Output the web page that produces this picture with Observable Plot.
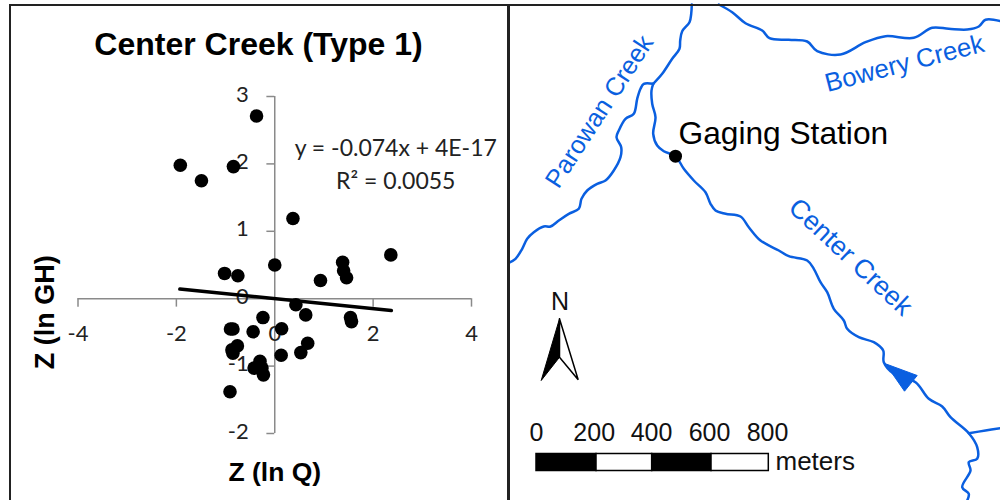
<!DOCTYPE html>
<html>
<head>
<meta charset="utf-8">
<script src="https://cdn.jsdelivr.net/npm/d3@7"></script>
<script src="https://cdn.jsdelivr.net/npm/@observablehq/plot@0.6"></script>
<style>
html,body{margin:0;padding:0;background:#fff;width:1000px;height:500px;overflow:hidden}
#left,#right{position:absolute;top:0}
#left{left:0}#right{left:508px}
.border{position:absolute;background:#222}
</style>
</head>
<body>
<div id="left"></div>
<div id="right"></div>
<div class="border" style="left:9px;top:4px;width:2px;height:496px"></div>
<div class="border" style="left:9px;top:4px;width:991px;height:2px"></div>
<div class="border" style="left:507px;top:4px;width:3px;height:496px"></div>
<script>
// ---- scatter values ----
const zQ = [-0.37,-1.92,-1.49,-0.84,0.37,2.36,0.0,-1.02,-0.75,0.93,1.38,1.40,1.46,0.43,0.63,1.54,1.56,-0.24,-0.85,-0.90,-0.44,0.14,0.67,0.53,0.13,-0.76,-0.87,-0.85,-0.30,-0.26,-0.42,-0.23,-0.91];
const zGH = [2.71,1.98,1.75,1.96,1.19,0.65,0.50,0.375,0.34,0.27,0.54,0.415,0.31,-0.09,-0.24,-0.28,-0.34,-0.28,-0.45,-0.45,-0.49,-0.445,-0.66,-0.80,-0.84,-0.70,-0.76,-0.81,-0.93,-1.03,-1.03,-1.13,-1.38];
const trendX = [-1.93,2.37];
const trendY = [0.143,-0.175];
const xTicks = [-4,-2,0,2,4];
const yTicks = [-2,-1,0,1,2,3];
const scatter = zQ.map((x,i)=>({x,y:zGH[i]}));
const trend = trendX.map((x,i)=>({x,y:trendY[i]}));

// ---- map features (map sheet coordinates) ----
const parowanUpper = [[691.3,4],[690.7,13.3],[689,21.7],[681.7,30.7],[679.7,40],[679,48.3],[671.7,58.3],[661.7,73.3],[652.7,83.3]];
const parowanLower = [[652.7,83.3],[643.3,83.3],[640,88.3],[636.7,98.3],[633.3,113.3],[625,118.3],[618.3,130],[616,136.7],[620.7,146.7],[620,156.7],[613.3,170],[605,180],[596.7,183.3],[586.7,190],[581,198.3],[578.3,208.3],[568.3,213.3],[558.3,220],[550,226],[543.3,226],[533.3,231.7],[526.7,238.3],[521.7,248.3],[515,258.3],[508.3,262.3]];
const centerCreek = [[652.7,83.3],[651,90],[651.7,103.3],[655,116.7],[652.7,133.3],[656.7,145],[663.3,150.7],[675,155.7],[683.3,168.3],[693.3,180],[705,191.7],[710,203.3],[715,210],[725,213.3],[740,216],[748.3,226.7],[760,240],[778.3,250],[788.3,255.7],[806.7,260],[813.3,268.3],[820,281.7],[826.7,291.7],[833.3,308.3],[843.3,320],[846.7,328.3],[858.3,336.7],[873.3,341.7],[882.7,350],[883.3,361.7],[893.3,373.3],[915,381.7],[928.3,398.3],[941.7,406],[950,416.7],[968.3,432.7],[976.7,446.7],[976.7,458.3],[968.3,461.7],[970,470],[961.7,486.7],[968.3,493.3],[966.7,500]];
const centerBranch = [[968.3,432.7],[985,430],[1000,427.7]];
const boweryCreek = [[718.3,4],[731.7,11.7],[745,22.7],[761.7,30],[769,37.7],[788.3,39.3],[806.7,41],[816.7,50.7],[840,54],[865,41.7],[885,35.7],[913.3,37.3],[931.7,27.3],[948.3,28.3],[966.7,29],[978.3,26],[985,19.3],[1000,20.7]];
const flowArrow = [[885,363.3],[916.7,375],[904,390.7],[885,363.3]];
const northLeft = [[559,318.3],[559,356.7],[540.7,380],[559,318.3]];
const northRight = [[559,318.3],[577.7,379.3],[559,356.7],[559,318.3]];
const station = [[675,155.7]];
const scaleEdges = [536,596,651.7,711,768.3];
const scaleFill = ["#000","#fff","#000","#fff"];
const scaleTop = 453.5, scaleBottom = 470.5;
const scaleLabels = ["0","200","400","600","800"];
const scaleLabelX = [536,593.7,651,709,767];

const gray = "#8a8a8a", blue = "#0a5fe0", ink = "#111";
const tick = "Lato, sans-serif", bold = "Liberation Sans, Arial, sans-serif";

const left = Plot.plot({
  width: 508, height: 500, margin: 0,
  x: {domain:[-4,4], range:[77.5,471], axis:null},
  y: {domain:[-2,3], range:[433,96], axis:null},
  marks: [
    Plot.ruleY([0], {x1:-4, x2:4, stroke:gray, strokeWidth:1.5}),
    Plot.ruleX([0], {y1:-2, y2:3, stroke:gray, strokeWidth:1.5}),
    Plot.ruleX(xTicks.filter(d=>d), {x:d=>d, y1:0, y2:-0.125, stroke:gray, strokeWidth:1.5}),
    Plot.ruleY(yTicks, {y:d=>d, x1:-0.16, x2:0, stroke:gray, strokeWidth:1.5}),
    Plot.text(xTicks, {x:d=>d, y:0, dy:35, text:d=>String(d), fontFamily:tick, fontSize:22, fill:"#222"}),
    Plot.text(yTicks, {x:0, y:d=>d, dx:-26, dy:-2, text:d=>String(d), textAnchor:"end", fontFamily:tick, fontSize:22, fill:"#222"}),
    Plot.dot(scatter, {x:"x", y:"y", r:6.8, fill:"#000"}),
    Plot.line(trend, {x:"x", y:"y", stroke:"#000", strokeWidth:3.5}),
    Plot.text(["y = -0.074x + 4E-17"], {x:2.46, y:2.23, text:d=>d, fontFamily:tick, fontSize:23, fill:"#222"}),
    Plot.text(["R² = 0.0055"], {x:2.46, y:1.74, text:d=>d, fontFamily:tick, fontSize:23, fill:"#222"}),
    Plot.text(["Center Creek (Type 1)"], {x:-0.33, y:3.77, text:d=>d, fontFamily:bold, fontWeight:"bold", fontSize:32, fill:"#000"}),
    Plot.text(["Z (ln Q)"], {x:0.0, y:-2.58, text:d=>d, fontFamily:bold, fontWeight:"bold", fontSize:26.5, fill:"#000"}),
    Plot.text(["Z (ln GH)"], {x:-4.67, y:-0.2, rotate:-90, text:d=>d, fontFamily:bold, fontWeight:"bold", fontSize:27, fill:"#000"})
  ]
});
document.getElementById("left").append(left);

const river = a => Plot.line(a, {x:d=>d[0], y:d=>d[1], stroke:blue, strokeWidth:2.5, curve:"catmull-rom"});
const poly = (a,fill,stroke,w) => Plot.line(a, {x:d=>d[0], y:d=>d[1], fill, stroke, strokeWidth:w, strokeLinejoin:"miter"});
const map = Plot.plot({
  width: 492, height: 500, margin: 0,
  x: {domain:[508,1000], range:[0,492], axis:null},
  y: {domain:[0,500], range:[0,500], axis:null},
  marks: [
    river(parowanUpper), river(parowanLower), river(centerCreek), river(centerBranch), river(boweryCreek),
    poly(flowArrow, blue, blue, 1),
    Plot.dot(station, {x:d=>d[0], y:d=>d[1], r:6.5, fill:"#000"}),
    poly(northRight, "#fff", "#000", 1.5),
    poly(northLeft, "#000", "#000", 1),
    Plot.rect(scaleFill, {x1:(d,i)=>scaleEdges[i], x2:(d,i)=>scaleEdges[i+1], y1:scaleTop, y2:scaleBottom, fill:d=>d, stroke:"#000", strokeWidth:1.5}),
    Plot.text(scaleLabels, {x:(d,i)=>scaleLabelX[i], y:432, text:d=>d, fontFamily:bold, fontSize:25, fill:ink}),
    Plot.text(["meters"], {x:775, y:461, text:d=>d, textAnchor:"start", fontFamily:bold, fontSize:26, fill:ink}),
    Plot.text(["N"], {x:559.5, y:301, text:d=>d, fontFamily:bold, fontSize:25, fill:ink}),
    Plot.text(["Gaging Station"], {x:678, y:133, text:d=>d, textAnchor:"start", fontFamily:bold, fontSize:31.7, fill:"#000"}),
    Plot.text(["Parowan Creek"], {x:599, y:111, rotate:-57, text:d=>d, fontFamily:bold, fontSize:25.5, fill:blue}),
    Plot.text(["Bowery Creek"], {x:904, y:63, rotate:-14.5, text:d=>d, fontFamily:bold, fontSize:26, fill:blue}),
    Plot.text(["Center Creek"], {x:850, y:256.5, rotate:43, text:d=>d, fontFamily:bold, fontSize:26.5, fill:blue})
  ]
});
document.getElementById("right").append(map);
</script>
</body>
</html>
